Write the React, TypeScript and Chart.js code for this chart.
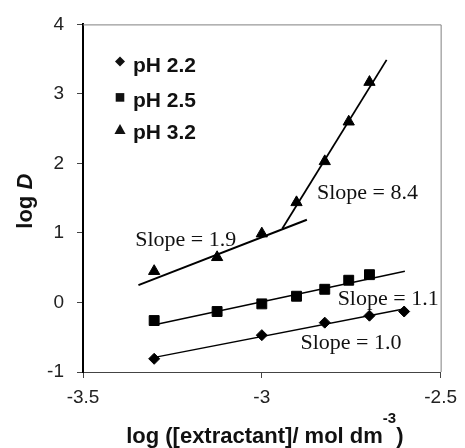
import React, { useEffect, useRef } from 'react';
import { Chart, registerables } from 'chart.js';

Chart.register(...registerables);

// ---- Data ----
const seriesNames = ['pH 2.2', 'pH 2.5', 'pH 3.2'];

const xPH22 = [-3.301, -3.0, -2.824, -2.699, -2.602];
const yPH22 = [-0.81, -0.47, -0.29, -0.19, -0.13];

const xPH25 = [-3.301, -3.125, -3.0, -2.903, -2.824, -2.757, -2.699];
const yPH25 = [-0.26, -0.13, -0.02, 0.09, 0.19, 0.32, 0.4];

const xPH32 = [-3.301, -3.125, -3.0, -2.903, -2.824, -2.757, -2.699];
const yPH32 = [0.45, 0.65, 0.99, 1.44, 2.03, 2.6, 3.17];

// fitted lines (end points)
const fit22X = [-3.3, -2.6];
const fit22Y = [-0.79, -0.09];
const fit25X = [-3.3, -2.6];
const fit25Y = [-0.32, 0.45];
const fit32aX = [-3.345, -2.874];
const fit32aY = [0.25, 1.19];
const fit32bX = [-2.943, -2.651];
const fit32bY = [1.06, 3.49];

// slope annotations (left edge x, vertical middle y, in data units)
const slopeLabels = ['Slope = 1.0', 'Slope = 1.1', 'Slope = 1.9', 'Slope = 8.4'];
const slopeLabelX = [-2.892, -2.788, -3.354, -2.846];
const slopeLabelY = [-0.571, 0.067, 0.91, 1.586];

const xTickLabels: Record<string, string> = { '-3.5': '-3.5', '-3': '-3', '-2.5': '-2.5' };
const xMin = -3.5;
const xMax = -2.5;
const xStep = 0.5;
const yMin = -1;
const yMax = 4;
const yStep = 1;

const xTitleMain = 'log ([extractant]/ mol dm';
const xTitleSup = '-3';
const xTitleEnd = ')';
const yTitleMain = 'log ';
const yTitleItalic = 'D';

const SANS = "'Liberation Sans', Arial, Helvetica, sans-serif";
const SERIF = "'Liberation Serif', 'Times New Roman', serif";

const toPts = (xs: number[], ys: number[]) => xs.map((x, i) => ({ x, y: ys[i] }));

function drawMarker(ctx: CanvasRenderingContext2D, style: string, x: number, y: number, r: number) {
  ctx.beginPath();
  if (style === 'diamond') {
    ctx.moveTo(x, y - r);
    ctx.lineTo(x + r, y);
    ctx.lineTo(x, y + r);
    ctx.lineTo(x - r, y);
  } else if (style === 'square') {
    ctx.rect(x - r, y - r, 2 * r, 2 * r);
  } else {
    ctx.moveTo(x, y - r);
    ctx.lineTo(x + r * 1.05, y + r * 0.85);
    ctx.lineTo(x - r * 1.05, y + r * 0.85);
  }
  ctx.closePath();
  ctx.fill();
}

const overlay = {
  id: 'overlay',
  afterDraw(chart: any) {
    const { ctx, chartArea: a, scales } = chart;
    ctx.save();
    // top & right frame
    ctx.strokeStyle = '#808080';
    ctx.lineWidth = 1;
    ctx.beginPath();
    ctx.moveTo(a.left, a.top + 0.5);
    ctx.lineTo(a.right + 0.5, a.top + 0.5);
    ctx.lineTo(a.right + 0.5, a.bottom);
    ctx.stroke();

    // slope labels
    ctx.fillStyle = '#111';
    ctx.font = `22px ${SERIF}`;
    ctx.textAlign = 'left';
    ctx.textBaseline = 'middle';
    slopeLabels.forEach((t, i) => {
      ctx.fillText(t, scales.x.getPixelForValue(slopeLabelX[i]), scales.y.getPixelForValue(slopeLabelY[i]) + 1);
    });

    // legend
    const styles = ['diamond', 'square', 'triangle'];
    const sizes = [5, 4.3, 5.3];
    const rowsMarker = [37, 73, 105];
    const rowsText = [48, 83, 115];
    ctx.font = `bold 21px ${SANS}`;
    ctx.textBaseline = 'alphabetic';
    ctx.fillStyle = '#111';
    seriesNames.forEach((n, i) => {
      drawMarker(ctx, styles[i], a.left + 37, a.top + rowsMarker[i], sizes[i]);
      ctx.fillText(n, a.left + 50, a.top + rowsText[i]);
    });

    // x title
    const mainFont = `bold 22px ${SANS}`;
    const supFont = `bold 15px ${SANS}`;
    ctx.font = mainFont;
    const w1 = ctx.measureText(xTitleMain).width;
    const w3 = ctx.measureText(xTitleEnd).width;
    ctx.font = supFont;
    const w2 = ctx.measureText(xTitleSup).width;
    const total = w1 + w2 + w3;
    const cx = (a.left + a.right) / 2 + 3;
    let sx = cx - total / 2;
    const base = 443;
    ctx.textAlign = 'left';
    ctx.font = mainFont;
    ctx.fillText(xTitleMain, sx, base);
    sx += w1;
    ctx.font = supFont;
    ctx.fillText(xTitleSup, sx, base - 20);
    sx += w2;
    ctx.font = mainFont;
    ctx.fillText(xTitleEnd, sx, base);

    // y title
    ctx.save();
    const cy = (a.top + a.bottom) / 2 + 3;
    ctx.translate(32, cy);
    ctx.rotate(-Math.PI / 2);
    ctx.font = mainFont;
    const wl = ctx.measureText(yTitleMain).width;
    const itFont = `bold italic 22px ${SANS}`;
    ctx.font = itFont;
    const wd = ctx.measureText(yTitleItalic).width;
    let ty = -(wl + wd) / 2;
    ctx.font = mainFont;
    ctx.fillText(yTitleMain, ty, 0);
    ty += wl;
    ctx.font = itFont;
    ctx.fillText(yTitleItalic, ty, 0);
    ctx.restore();

    ctx.restore();
  },
};

export default function App() {
  const ref = useRef<HTMLCanvasElement>(null);

  useEffect(() => {
    document.body.style.margin = '0';
    const markerCommon = {
      showLine: false,
      backgroundColor: '#000',
      borderColor: '#000',
      pointBackgroundColor: '#000',
      pointBorderColor: '#000',
      pointBorderWidth: 1,
    };
    const lineCommon = {
      borderColor: '#000',
      pointRadius: 0,
      fill: false,
      tension: 0,
    };
    const chart = new Chart(ref.current as HTMLCanvasElement, {
      type: 'line',
      data: {
        datasets: [
          { ...markerCommon, label: seriesNames[0], data: toPts(xPH22, yPH22), pointStyle: 'rectRot', pointRadius: 5.5 },
          { ...markerCommon, label: seriesNames[1], data: toPts(xPH25, yPH25), pointStyle: 'rect', pointRadius: 7 },
          { ...markerCommon, label: seriesNames[2], data: toPts(xPH32, yPH32), pointStyle: 'triangle', pointRadius: 6.5 },
          { ...lineCommon, label: 'fit22', data: toPts(fit22X, fit22Y), borderWidth: 1.4 },
          { ...lineCommon, label: 'fit25', data: toPts(fit25X, fit25Y), borderWidth: 1.4 },
          { ...lineCommon, label: 'fit32a', data: toPts(fit32aX, fit32aY), borderWidth: 2 },
          { ...lineCommon, label: 'fit32b', data: toPts(fit32bX, fit32bY), borderWidth: 1.8 },
        ] as any,
      },
      options: {
        animation: false,
        responsive: false,
        devicePixelRatio: 1,
        layout: { padding: { top: 22, right: 17, left: 0, bottom: 0 } },
        plugins: {
          legend: { display: false },
          tooltip: { enabled: false },
        },
        scales: {
          x: {
            type: 'linear',
            min: xMin,
            max: xMax,
            ticks: {
              stepSize: xStep,
              padding: 8,
              color: '#222',
              font: { family: SANS, size: 19 },
              callback: (v: number) => xTickLabels[String(v)] ?? String(v),
            },
            grid: { drawOnChartArea: false, drawTicks: true, tickLength: 6, color: '#444' },
            border: { display: true, color: '#444', width: 1 },
            afterFit: (s: any) => {
              s.height = 76;
            },
          },
          y: {
            type: 'linear',
            min: yMin,
            max: yMax,
            ticks: {
              stepSize: yStep,
              padding: 13,
              color: '#222',
              font: { family: SANS, size: 19 },
            },
            grid: { drawOnChartArea: false, drawTicks: true, tickLength: 6, color: '#444' },
            border: { display: true, color: '#000', width: 2 },
            afterFit: (s: any) => {
              s.width = 83;
            },
          },
        },
      } as any,
      plugins: [overlay],
    });
    return () => chart.destroy();
  }, []);

  return (
    <div style={{ width: 465, height: 448 }}>
      <canvas ref={ref} width={465} height={448} style={{ display: 'block' }} />
    </div>
  );
}
